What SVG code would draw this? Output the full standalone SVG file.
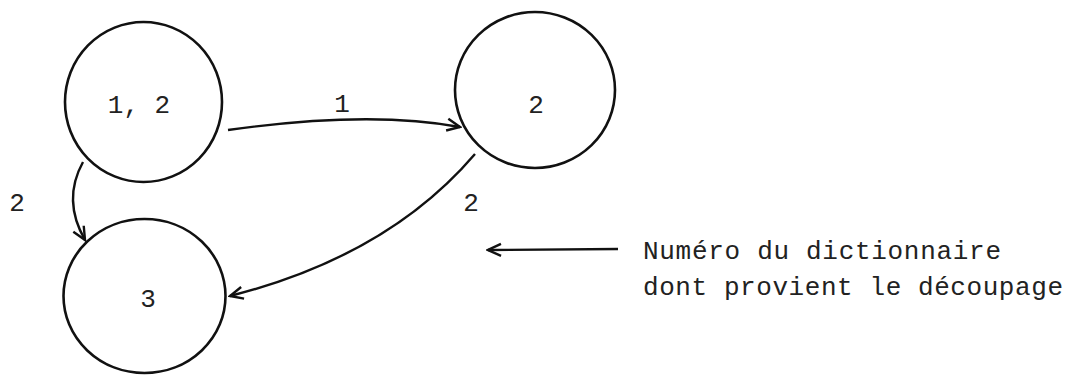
<svg xmlns="http://www.w3.org/2000/svg" width="1070" height="375" viewBox="0 0 1070 375">
<style>
.node{fill:none;stroke:#111;stroke-width:2.6}
.edge{fill:none;stroke:#111;stroke-width:2.4}
.t{font-family:"Liberation Mono","DejaVu Sans Mono",monospace;font-size:26px;fill:#222}
</style>
<defs>
<marker id="arr" markerUnits="userSpaceOnUse" markerWidth="16" markerHeight="16" refX="14" refY="7" orient="auto" viewBox="0 0 16 14">
<path d="M1,1 L14,7 L1,13" fill="none" stroke="#111" stroke-width="2.4"/>
</marker>
</defs>
<rect width="1070" height="375" fill="#fff"/>
<g id="connectors">
<path class="edge" d="M228,130 Q370,110 460,127" marker-end="url(#arr)"/>
<path class="edge" d="M83,162 Q62,200 85,240" marker-end="url(#arr)"/>
<path class="edge" d="M475,154 Q388,256 230,296" marker-end="url(#arr)"/>
<path class="edge" d="M618,249 L488,250" marker-end="url(#arr)"/>
<text class="t" x="342" y="112" text-anchor="middle">1</text>
<text class="t" x="17" y="211" text-anchor="middle">2</text>
<text class="t" x="471" y="211" text-anchor="middle">2</text>
</g>
<g id="node1">
<ellipse class="node" cx="143.5" cy="102" rx="78.5" ry="80"/>
<text class="t" x="139" y="113" text-anchor="middle">1, 2</text>
</g>
<g id="node2">
<ellipse class="node" cx="535" cy="90" rx="80" ry="78"/>
<text class="t" x="536" y="113" text-anchor="middle">2</text>
</g>
<g id="node3">
<ellipse class="node" cx="144.5" cy="296" rx="81" ry="77"/>
<text class="t" x="148" y="307" text-anchor="middle">3</text>
</g>
<g id="legend">
<text class="t" x="643" y="259" textLength="358" lengthAdjust="spacing">Numéro du dictionnaire</text>
<text class="t" x="643" y="295" textLength="420" lengthAdjust="spacing">dont provient le découpage</text>
</g>
</svg>
